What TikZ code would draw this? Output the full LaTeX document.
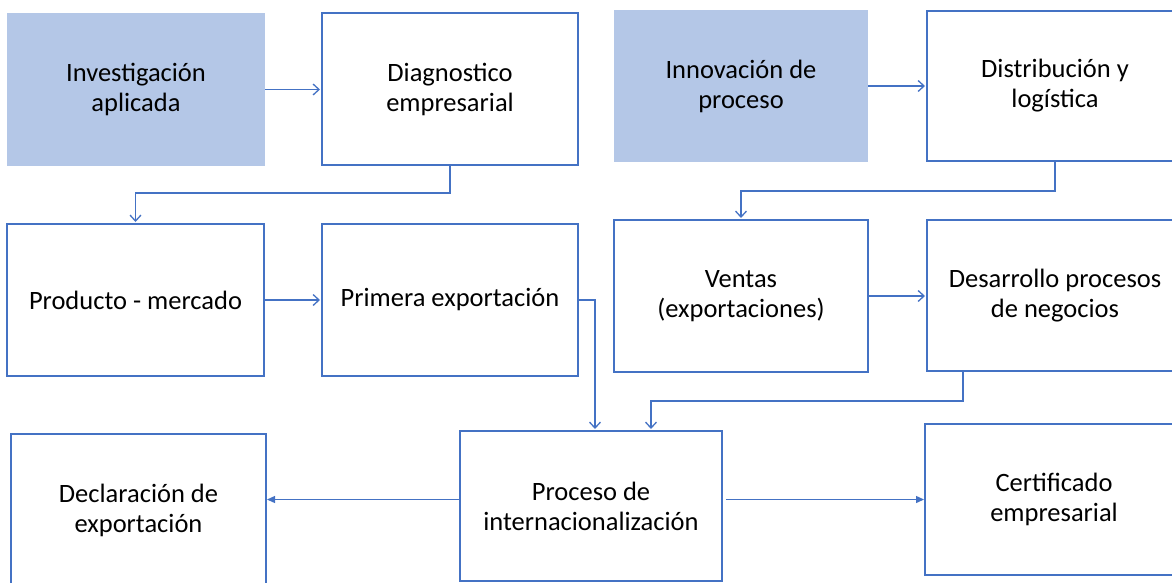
\documentclass[tikz,border=0pt]{standalone}
\usepackage{fontspec}
\setmainfont{Carlito}
\usetikzlibrary{arrows.meta}
\definecolor{boxline}{HTML}{4472C4}
\definecolor{boxfill}{HTML}{B4C7E7}
\begin{document}
\begin{tikzpicture}[x=1pt,y=-1pt,inner sep=0pt,outer sep=0pt,line width=1.3pt,
stage/.style={draw=boxline,rectangle,align=center,minimum width=256pt,minimum height=152pt,font=\fontsize{26.5}{30}\selectfont},
stagefill/.style={stage,draw=none,fill=boxfill},
link/.style={draw=boxline,shorten >=2pt,-{Straight Barb[length=6pt,width=11pt]}},
flink/.style={draw=boxline,shorten >=1pt,-{Triangle[length=8pt,width=7pt]}}]
\useasboundingbox (0,0) rectangle (1172,582);
\clip (0,0) rectangle (1172,582);
\draw (136,89.5) node[stagefill,minimum width=258pt,minimum height=153pt] (inv) {Investigación\\aplicada};
\draw (450,89) node[stage] (diag) {Diagnostico\\empresarial};
\draw (741,86) node[stagefill,minimum width=254pt] (innov) {Innovación de\\proceso};
\draw (1055,86) node[stage,minimum height=150pt] (distr) {Distribución y\\logística};

\draw (135.5,300) node[stage,minimum width=257pt] (prod) {Producto - mercado};
\draw (450,300) node[stage] (prim) {Primera exportación};
\draw (741,296) node[stage,minimum width=254pt] (ventas) {Ventas\\(exportaciones)};
\draw (1055,295.5) node[stage,minimum height=151pt] (desar) {Desarrollo procesos\\de negocios};

\draw (138.5,510) node[stage,minimum width=255pt] (decl) {Declaración de\\exportación};
\draw (591,506) node[stage,minimum width=262pt,minimum height=150pt] (proc) {Proceso de\\internacionalización};
\draw (1054,499.5) node[stage,minimum width=258pt,minimum height=151pt] (cert) {Certificado\\empresarial};

\draw[link] (inv.east) -- (inv.east -| diag.west);
\draw[link] (innov.east) -- (innov.east -| distr.west);
\draw[link] (diag.south) -- ++(0,28) -| (prod.north);
\draw[link] (distr.south) -- ++(0,30) -| (ventas.north);
\draw[link] (prod) -- (prim);
\draw[link] (ventas.east) -- (ventas.east -| desar.west);
\draw[link] (prim.east) -| ([xshift=4pt]proc.north);
\draw[link] ([xshift=36pt]desar.south west) -- ++(0,30) -| ([xshift=60pt]proc.north);
%\draw[link] (proc) -- (cert);
\draw[flink] (proc.west |- cert.west) -- (decl.east |- cert.west);
\draw[flink] ([xshift=4pt]proc.east |- cert.west) -- (cert.west);
\end{tikzpicture}
\end{document}
